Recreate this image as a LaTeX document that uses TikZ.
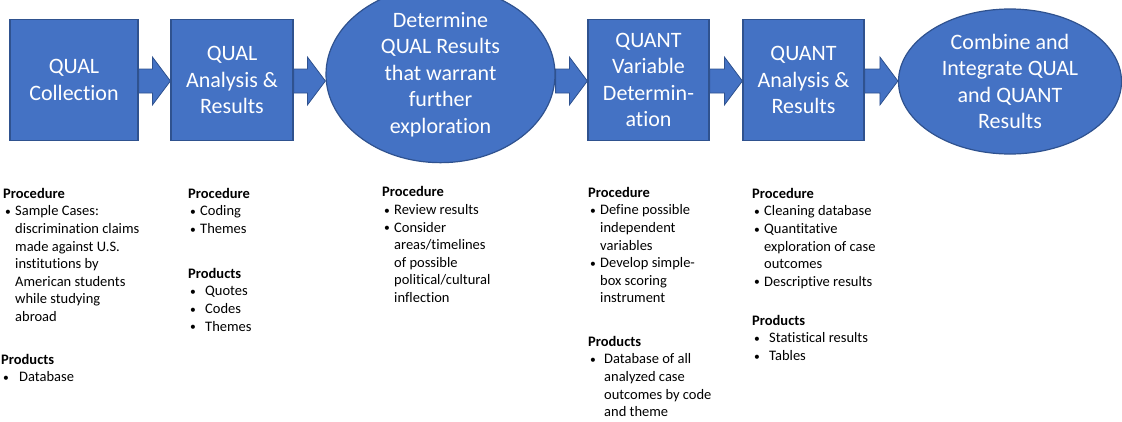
\documentclass[tikz,border=0pt]{standalone}
\usepackage{fontspec}
\setmainfont{Carlito}[Ligatures=NoCommon]
\usetikzlibrary{shapes.geometric, calc, backgrounds}

\definecolor{boxblue}{RGB}{68,114,196}
\definecolor{edgeblue}{RGB}{47,82,143}

% bullet and hanging indent for the notes
\newcommand{\bul}[1][12pt]{\makebox[#1][l]{\hspace{2pt}\raisebox{0.4pt}{\scalebox{0.8}{\textbullet}}}}
\newcommand{\cont}{\hspace*{12pt}}

% block arrow between two stages
\newcommand{\flowarrow}[2]{%
\draw[blockarrow] let \p1=(#1.east), \p2=(#2.west), \p3=(row) in
 (\x1,\y3+12pt) -- (\x2-18pt,\y3+12pt) -- (\x2-18pt,\y3+24pt) -- (\x2,\y3)
 -- (\x2-18pt,\y3-24pt) -- (\x2-18pt,\y3-12pt) -- (\x1,\y3-12pt) -- cycle;}

\begin{document}
\begin{tikzpicture}[x=1pt, y=-1pt,
  stage/.style={draw=edgeblue, fill=boxblue, line width=1.2pt, text=white, inner sep=0,
    align=center, font=\fontsize{22}{26.5}\selectfont},
  stagebox/.style={stage, rectangle, minimum width=121, minimum height=121},
  stageoval/.style={stage, ellipse, minimum height=145},
  blockarrow/.style={draw=edgeblue, fill=boxblue, line width=0.8pt, line join=miter},
  notes/.style={anchor=north west, inner sep=0, align=left, font=\fontsize{14.5}{17.6}\selectfont}]

\useasboundingbox (0,0) rectangle (1122,421);
\coordinate (row) at (0,81);

% stages
\node[stagebox, minimum width=128] (qualcol) at (74,80) {QUAL\\Collection};
\node[stagebox, minimum width=122] (qualres) at (232,80) {QUAL\\Analysis \&\\Results};
\node[stageoval, minimum width=229] (explore) at (440.5,74.5) {Determine\\QUAL Results\\that warrant\\further\\exploration};
\node[stagebox] (quantvar) at (648.5,80) {QUANT\\Variable\\Determin-\\ation};
\node[stagebox] (quantres) at (803.5,80) {QUANT\\Analysis \&\\Results};
\node[stageoval, minimum width=223] (combine) at (1010,81.5) {Combine and\\Integrate QUAL\\and QUANT\\Results};

\begin{scope}[on background layer]
\flowarrow{qualcol}{qualres}
\flowarrow{qualres}{explore}
\flowarrow{explore}{quantvar}
\flowarrow{quantvar}{quantres}
\flowarrow{quantres}{combine}
\end{scope}

% procedures
\node[notes] (proc1) at (3,188) {\textbf{Procedure}\\
  \bul Sample Cases:\\ \cont discrimination claims\\ \cont made against U.S.\\
  \cont institutions by\\ \cont American students\\ \cont while studying\\ \cont abroad};
\node[notes] (proc2) at (188,188) {\textbf{Procedure}\\ \bul Coding\\ \bul Themes};
\node[notes] (proc3) at (382,186.5) {\textbf{Procedure}\\ \bul Review results\\ \bul Consider\\
  \cont areas/timelines\\ \cont of possible\\ \cont political/cultural\\ \cont inflection};
\node[notes] (proc4) at (588,187) {\textbf{Procedure}\\ \bul Define possible\\ \cont independent\\
  \cont variables\\ \bul Develop simple-\\ \cont box scoring\\ \cont instrument};
\node[notes] (proc5) at (752,188) {\textbf{Procedure}\\ \bul Cleaning database\\ \bul Quantitative\\
  \cont exploration of case\\ \cont outcomes\\ \bul Descriptive results};

% products
\node[notes] (prod1) at (1,354) {\textbf{Products}\\ \bul[18pt]Database};
\node[notes] (prod2) at (188,268) {\textbf{Products}\\ \bul[17pt]Quotes\\ \bul[17pt]Codes\\ \bul[17pt]Themes};
\node[notes] (prod4) at (588,336) {\textbf{Products}\\ \bul[16pt]Database of all\\ \hspace*{16pt}analyzed case\\
  \hspace*{16pt}outcomes by code\\ \hspace*{16pt}and theme};
\node[notes] (prod5) at (752,315) {\textbf{Products}\\ \bul[17pt]Statistical results\\ \bul[17pt]Tables};

\end{tikzpicture}
\end{document}
